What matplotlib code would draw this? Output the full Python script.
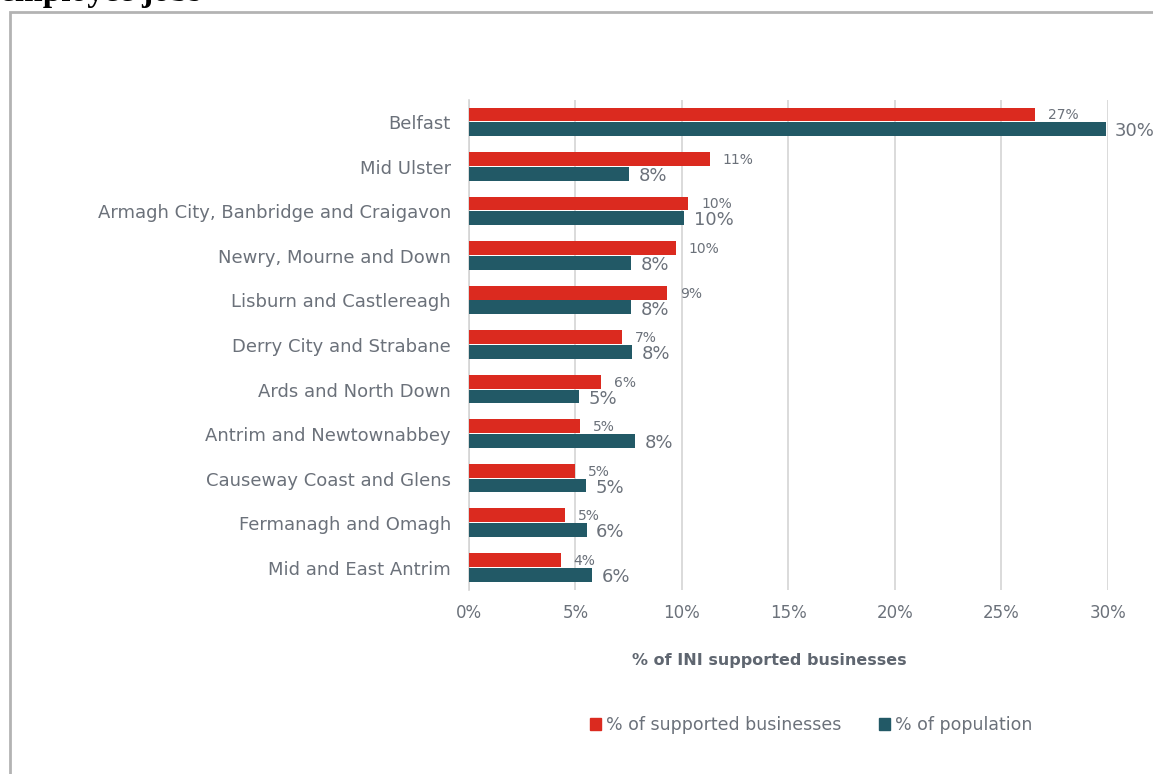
import matplotlib
matplotlib.use("Agg")
import matplotlib.pyplot as plt
from matplotlib.patches import Rectangle

regions = [
    "Belfast",
    "Mid Ulster",
    "Armagh City, Banbridge and Craigavon",
    "Newry, Mourne and Down",
    "Lisburn and Castlereagh",
    "Derry City and Strabane",
    "Ards and North Down",
    "Antrim and Newtownabbey",
    "Causeway Coast and Glens",
    "Fermanagh and Omagh",
    "Mid and East Antrim",
]
supported_pct = [26.6, 11.3, 10.3, 9.7, 9.3, 7.2, 6.2, 5.2, 5.0, 4.52, 4.3]
population_pct = [29.9, 7.52, 10.1, 7.6, 7.6, 7.65, 5.15, 7.8, 5.48, 5.52, 5.8]
x_ticks = [0, 5, 10, 15, 20, 25, 30]
x_ticklabels = ["0%", "5%", "10%", "15%", "20%", "25%", "30%"]

RED = "#db2a1f"
TEAL = "#225966"
TXT = "#6b717a"
GRID = "#d4d4d4"

plt.rcParams["font.family"] = ["DejaVu Sans"]

W, H = 1153, 774
fig = plt.figure(figsize=(W / 100, H / 100), dpi=100)

# outer frame and title running off the top edge
fig.patches.append(Rectangle((10 / W, -0.1), 1.2, (1 - 12 / H) + 0.1,
                             transform=fig.transFigure, fill=False,
                             edgecolor="#b3b3b3", linewidth=2))
fig.text(0 / W, 1 - 1.5 / H, "employee jobs", family="Liberation Serif",
         fontweight="bold", fontsize=24, color="black", va="baseline", ha="left")

ax = fig.add_axes([469 / W, 1 - 590 / H, (1107.7 - 469) / W, 490 / H])
n = len(regions)
ys = list(range(n))
bh = 0.31
y_red = [y - bh / 2 - 0.02 for y in ys]
y_teal = [y + bh / 2 for y in ys]
ax.barh(y_red, supported_pct, height=bh, color=RED, zorder=3)
ax.barh(y_teal, population_pct, height=bh, color=TEAL, zorder=3)

for yr, v in zip(y_red, supported_pct):
    ax.text(v + 0.6, yr + 0.02, f"{round(v + 1e-9):d}%", fontsize=10,
            color=TXT, va="center", ha="left")
for yt, v in zip(y_teal, population_pct):
    ax.text(v + 0.45, yt + 0.05, f"{round(v + 1e-9):d}%", fontsize=13,
            color=TXT, va="center", ha="left")

ax.set_xlim(0, 30)
ax.set_ylim(n - 0.5, -0.5)
ax.set_xticks(x_ticks)
ax.set_xticklabels(x_ticklabels, fontsize=12, color=TXT)
ax.set_yticks(ys)
ax.set_yticklabels(regions, fontsize=13, color=TXT)
ax.tick_params(axis="both", length=0)
ax.tick_params(axis="x", pad=10)
ax.tick_params(axis="y", pad=13)
ax.xaxis.grid(True, color=GRID, linewidth=1.2, zorder=0)
for s in ["top", "right", "bottom"]:
    ax.spines[s].set_visible(False)
ax.spines["left"].set_color(GRID)
ax.spines["left"].set_linewidth(1.2)

ax.set_xlabel("% of INI supported businesses", fontsize=11.5, color="#5f6670",
              fontweight="bold")
ax.xaxis.set_label_coords((769 - 469) / (1107.7 - 469), -(661 - 590) / 490)
ax.xaxis.label.set_va("center")

handles = [Rectangle((0, 0), 1, 1, color=RED), Rectangle((0, 0), 1, 1, color=TEAL)]
leg = fig.legend(handles, ["% of supported businesses", "% of population"],
                 loc="center", bbox_to_anchor=(811 / W, 1 - 725 / H), ncol=2,
                 frameon=False, fontsize=12.5, handlelength=0.65, handleheight=0.65,
                 handletextpad=0.25, columnspacing=2.2)
for t in leg.get_texts():
    t.set_color(TXT)

fig.savefig("out.png", dpi=100)
